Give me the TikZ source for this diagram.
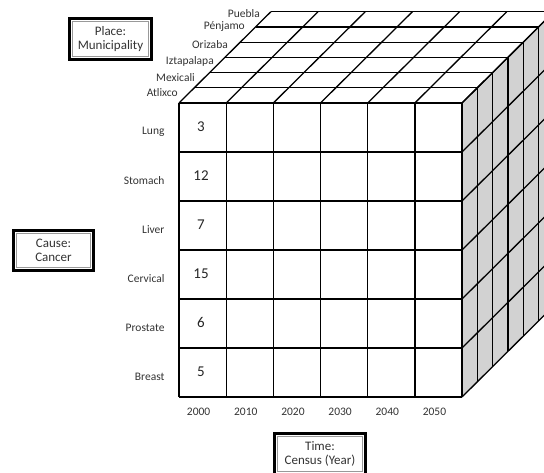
\documentclass[tikz,border=0pt]{standalone}
\usepackage{fontspec}
\setmainfont{Carlito}

\begin{document}
\begin{tikzpicture}[x=1pt, y=-1pt,
  cubeline/.style={line width=1.3pt, black, line join=round},
  sideface/.style={fill=gray!35},
  topface/.style={fill=white},
  axisbox/.style={draw=black, line width=2.8pt, fill=white, align=center, inner sep=0pt,
    text=black!80, font=\fontsize{13}{14.5}\selectfont,
    path picture={\draw[gray!80, line width=1.1pt]
      ([shift={(3.2pt,-3.2pt)}]path picture bounding box.north west) rectangle
      ([shift={(-3.2pt,3.2pt)}]path picture bounding box.south east);}},
  rowlabel/.style={anchor=east, text=black!80, font=\fontsize{11.5}{13}\selectfont},
  deplabel/.style={anchor=east, text=black!80, font=\fontsize{11.5}{13}\selectfont, inner sep=0pt},
  yearlabel/.style={text=black!80, font=\fontsize{11.5}{13}\selectfont},
  cellval/.style={text=black!85, font=\fontsize{15}{17}\selectfont}
]
\useasboundingbox (0,0) rectangle (544,473);

\def\colw{47.17}
\def\rowh{49}
\def\depx{15.3}
\def\depy{15.2}

% faces of the cube
\fill[topface] (179,103) -- ++({6*\colw},0) -- ++({6*\depx},{-6*\depy}) -- ++({-6*\colw},0) -- cycle;
\fill[sideface] ({179+6*\colw},103) -- ++({6*\depx},{-6*\depy}) -- ++(0,{6*\rowh}) -- ++({-6*\depx},{6*\depy}) -- cycle;

% grid lines
\foreach \k in {0,...,6} {
  \draw[cubeline] ({179+\k*\depx},{103-\k*\depy}) -- ++({6*\colw},0);
  \draw[cubeline] ({179+6*\colw+\k*\depx},{103-\k*\depy}) -- ++(0,{6*\rowh});
}
\foreach \i in {0,...,6} {
  \draw[cubeline] ({179+\i*\colw},103) -- ++({6*\depx},{-6*\depy});
  \draw[cubeline] ({179+\i*\colw},103) -- ++(0,{6*\rowh});
  \draw[cubeline] (179,{103+\i*\rowh}) -- ++({6*\colw},0);
  \draw[cubeline] ({179+6*\colw},{103+\i*\rowh}) -- ++({6*\depx},{-6*\depy});
}

% labels
\foreach \name [count=\j from 0] in {Lung,Stomach,Liver,Cervical,Prostate,Breast}
  \node[rowlabel] (cause\j) at (168,{127.5+\j*\rowh+4}) {\name};
\foreach \v [count=\j from 0] in {3,12,7,15,6,5}
  \node[cellval] (val\j) at (201,{127.5+\j*\rowh-1}) {\v};
\foreach \yr [count=\i from 0] in {2000,2010,...,2050}
  \node[yearlabel] (year\i) at ({202.6+\i*\colw-4},412) {\yr};
\foreach \place/\px/\py [count=\k] in {Atlixco/178/93, Mexicali/195/78, Iztapalapa/214/61,
    Orizaba/228/45, Pénjamo/245/27, Puebla/260/14}
  \node[deplabel] (place\k) at (\px,\py) {\place};

% axis boxes
\node[axisbox, minimum width=82pt, minimum height=41pt] (placebox) at (110.5,39) {Place:\\Municipality};
\node[axisbox, minimum width=80pt, minimum height=40pt] (causebox) at (53.5,250.5) {Cause:\\Cancer};
\node[axisbox, minimum width=91pt, minimum height=41pt] (timebox) at (320,454) {Time:\\Census (Year)};

\end{tikzpicture}
\end{document}
